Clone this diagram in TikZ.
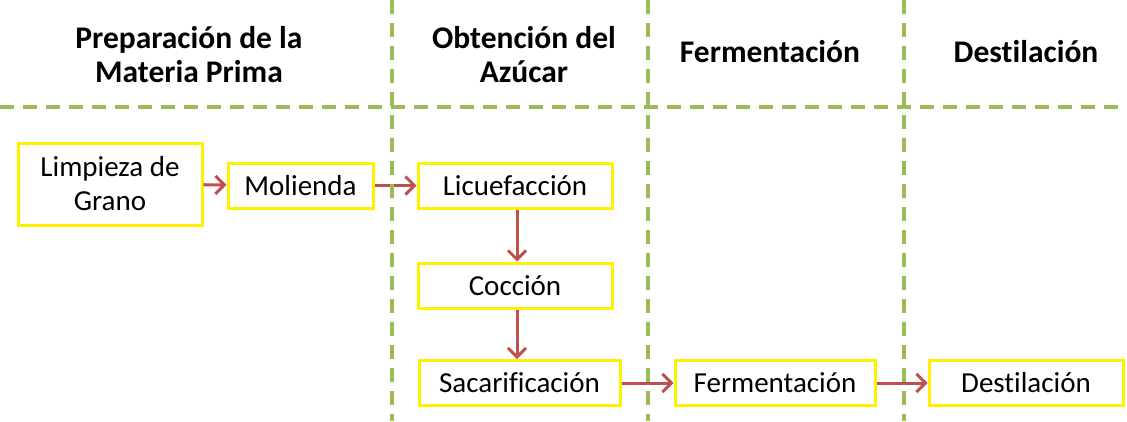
\documentclass[tikz,border=0pt]{standalone}
\usepackage{fontspec}
\setmainfont[Ligatures={NoCommon,NoContextual}]{Carlito}
\usetikzlibrary{arrows.meta}
\definecolor{verdeguia}{HTML}{9BBB59}
\definecolor{rojoflecha}{HTML}{C0504D}
\begin{document}
\begin{tikzpicture}[x=1pt,y=-1pt]
    \useasboundingbox (0,0) rectangle (1127,421);

    % Estilos
    \tikzset{
        paso/.style={draw=yellow, line width=3pt, fill=white, inner sep=0pt,
            minimum height=45pt, align=center, font=\fontsize{29}{34}\selectfont},
        fase/.style={align=center, font=\bfseries\fontsize{31.5}{34}\selectfont},
        flecha/.style={draw=rojoflecha, line width=3pt,
            -{Straight Barb[length=9pt,width=18pt,line width=3pt]}},
        guia/.style={draw=verdeguia, line width=3.5pt, dash pattern=on 14pt off 9pt}
    }

    % Fases
    \node[fase] (f1) at (189,55) {Preparación de la\\Materia Prima};
    \node[fase] (f2) at (524,55) {Obtención del\\Azúcar};
    \node[fase] (f3) at (770,52) {Fermentación};
    \node[fase] (f4) at (1026,52) {Destilación};

    % Pasos
    \node[paso, minimum width=184pt, minimum height=82pt] (limpieza) at (110,184) {Limpieza de\\Grano};
    \node[paso, minimum width=145pt] (molienda) at (300.5,185.5) {Molienda};
    \node[paso, minimum width=194pt] (licuefaccion) at (515,185.5) {Licuefacción};
    \node[paso, minimum width=194pt] (coccion) at (515,285.5) {Cocción};
    \node[paso, minimum width=201pt] (sacarificacion) at (519.5,383) {Sacarificación};
    \node[paso, minimum width=200pt] (fermentacion) at (775,383) {Fermentación};
    \node[paso, minimum width=194pt] (destilacion) at (1026,383) {Destilación};

    % Flechas
    \draw[flecha] (limpieza) -- (molienda);
    \draw[flecha] (molienda) -- (licuefaccion);
    \draw[flecha] ([xshift=2pt]licuefaccion.south) -- ([xshift=2pt]coccion.north);
    \draw[flecha] ([xshift=2pt]coccion.south) -- ([xshift=2pt]coccion.south |- sacarificacion.north);
    \draw[flecha] (sacarificacion) -- (fermentacion);
    \draw[flecha] (fermentacion) -- (destilacion);

    % Divisiones
    \draw[guia] (0,107) -- (1127,107);
    \foreach \x in {392,648,904}
        \draw[guia] (\x,0) -- (\x,421);
\end{tikzpicture}
\end{document}
